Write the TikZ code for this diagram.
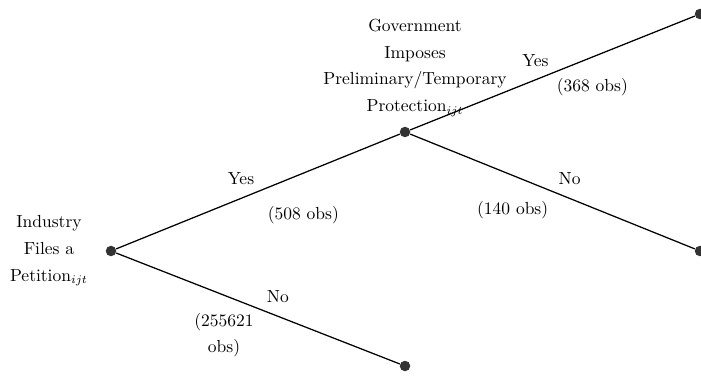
\documentclass[tikz,border=0pt]{standalone}
\usepackage{amsmath}
\usetikzlibrary{positioning}
\begin{document}
\begin{tikzpicture}[x = .6pt, y = .6pt, font = \fontsize{10.5}{16}\selectfont]
\tikzset{dot/.style = {circle, fill = black!80, inner sep = 0pt, minimum size = 6.3pt},
  edge/.style = {line width = .75pt},
  stage/.style = {align = center}}
\useasboundingbox (0,0) rectangle (701,380);
\node[dot] (file) at (111,129) {};
\node[dot] (prot) at (405,248) {};
\node[dot] (nofile) at (405,14) {};
\node[dot] (yesprot) at (700,366) {};
\node[dot] (noprot) at (700,129) {};
\node[stage, left = 7pt of file] (filelab) {Industry\\Files a\\Petition$_{ijt}$};
\node[stage, above = 2.5pt of prot, xshift = 6pt] (protlab) {Government\\Imposes\\Preliminary/Temporary\\Protection$_{ijt}$};
\draw[edge] (file) -- node[pos = .44, above = 4.5pt] {Yes} node[pos = .66, below = 16pt] {(508 obs)} (prot);
\draw[edge] (file) -- node[pos = .57, above = 4.5pt] {No} node[stage, pos = .38, below = 7pt] {(255621\\obs)} (nofile);
\draw[edge] (prot) -- node[pos = .44, above = 4pt] {Yes} node[pos = .64, below = 9pt] {(368 obs)} (yesprot);
\draw[edge] (prot) -- node[pos = .56, above = 4.5pt] {No} node[pos = .36, below = 12pt] {(140 obs)} (noprot);
\end{tikzpicture}
\end{document}
